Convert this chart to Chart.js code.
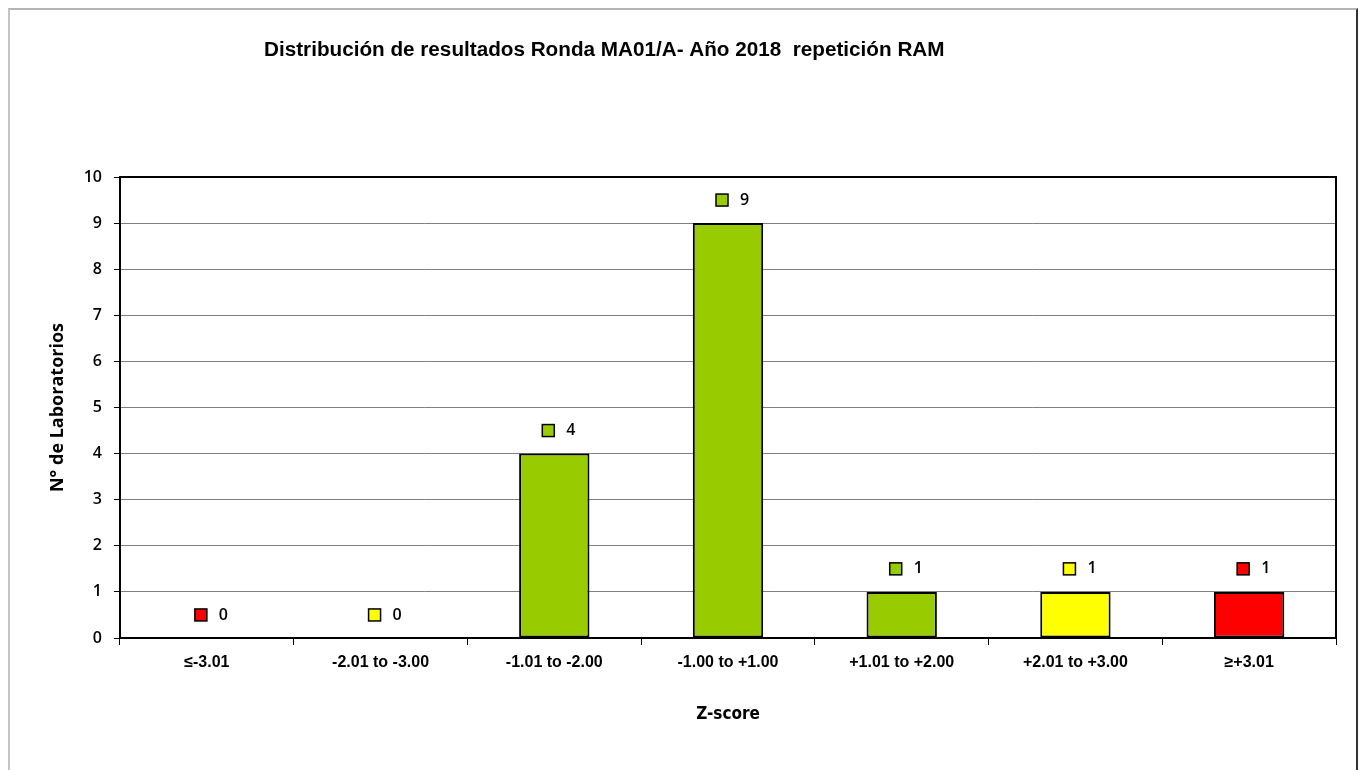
<!DOCTYPE html>
<html>
<head>
<meta charset="utf-8">
<script src="https://cdn.jsdelivr.net/npm/chart.js@4.4.1/dist/chart.umd.min.js"></script>
<style>
html, body { margin:0; padding:0; background:#fff; overflow:hidden; }
#wrap { position:relative; width:1359px; height:770px; }
#frame { position:absolute; left:8px; top:8px; width:1346px; height:800px;
  border-left:2px solid #c4c4c4; border-top:2px solid #b4b4b4; border-right:2px solid #333; }
canvas { position:absolute; left:0; top:0; }
</style>
</head>
<body>
<div id="wrap">
<canvas id="chart" width="1359" height="770"></canvas>
<div id="frame"></div>
</div>
<script>

const chartTitle = "Distribución de resultados Ronda MA01/A- Año 2018  repetición RAM";

const categories = [
    "≤-3.01",
    "-2.01 to -3.00",
    "-1.01 to -2.00",
    "-1.00 to +1.00",
    "+1.01 to +2.00",
    "+2.01 to +3.00",
    "≥+3.01"
];

const labCounts = [0, 0, 4, 9, 1, 1, 1];

const barColors = [
    "#ff0000",
    "#ffff00",
    "#99cc00",
    "#99cc00",
    "#99cc00",
    "#ffff00",
    "#ff0000"
];

const yTicks = [0, 1, 2, 3, 4, 5, 6, 7, 8, 9, 10];


// value labels with a small coloured key square
const valueLabels = {
    id: "valueLabels",
    afterDatasetsDraw(chart){
        const ctx = chart.ctx;
        const x = chart.scales.x;
        const y = chart.scales.y;
        ctx.save();
        ctx.font = "600 16px 'Open Sans'";
        ctx.textBaseline = "middle";
        ctx.textAlign = "left";
        labCounts.forEach((v, i) => {
            const cx = x.getPixelForValue(i);
            const cy = y.getPixelForValue(v + 0.5);
            ctx.fillStyle = barColors[i];
            ctx.fillRect(cx - 12, cy - 6, 12, 12);
            ctx.strokeStyle = "#000";
            ctx.lineWidth = 1.5;
            ctx.strokeRect(cx - 12, cy - 6, 12, 12);
            ctx.fillStyle = "#000";
            ctx.fillText(String(v), cx + 12, cy);
        });
        ctx.restore();
    }
};

// plot frame + title
const frameAndTitle = {
    id: "frameAndTitle",
    afterDraw(chart){
        const ctx = chart.ctx;
        const a = chart.chartArea;
        ctx.save();
        ctx.strokeStyle = "#000";
        ctx.lineWidth = 2;
        ctx.strokeRect(a.left, a.top, a.right - a.left, a.bottom - a.top);
        ctx.fillStyle = "#000";
        ctx.font = "bold 20.7px 'Liberation Sans'";
        ctx.textAlign = "left";
        ctx.textBaseline = "middle";
        ctx.fillText(chartTitle, 264, 50);
        ctx.restore();
    }
};


new Chart(document.getElementById("chart").getContext("2d"), {

    type:"bar",

    data:{
        labels:categories,
        datasets:[
            {
                label:"Laboratorios",
                data:labCounts,
                backgroundColor:barColors,
                borderColor:"#000",
                borderWidth:2,
                borderSkipped:false,
                categoryPercentage:1,
                barPercentage:0.405
            }
        ]
    },

    options:{
        responsive:false,
        animation:false,
        layout:{
            padding:{ top:177, right:23, bottom:0, left:0 }
        },
        plugins:{
            legend:{ display:false },
            tooltip:{ enabled:false }
        },
        scales:{
            x:{
                afterFit(s){ s.height = 132; },
                grid:{
                    offset:true,
                    drawOnChartArea:false,
                    tickLength:7,
                    tickColor:"#000",
                    tickWidth:1
                },
                border:{ color:"#000", width:2 },
                ticks:{
                    color:"#000",
                    padding:8,
                    font:{ family:"'Liberation Sans'", size:16, weight:"bold" }
                },
                title:{
                    display:true,
                    text:"Z-score",
                    color:"#000",
                    padding:{ top:0, bottom:45 },
                    font:{ family:"'DejaVu Sans Condensed'", size:17, weight:"bold" }
                }
            },
            y:{
                min:0,
                max:10,
                afterFit(s){ s.width = 120; },
                afterBuildTicks(s){ s.ticks = yTicks.map(v => ({ value:v })); },
                grid:{
                    color:"#808080",
                    lineWidth:1,
                    tickLength:6,
                    tickColor:"#000"
                },
                border:{ color:"#000", width:2 },
                ticks:{
                    color:"#000",
                    padding:12,
                    font:{ family:"'Open Sans'", size:16, weight:"600" }
                },
                title:{
                    display:true,
                    text:"N° de Laboratorios",
                    color:"#000",
                    padding:{ top:47, bottom:0 },
                    font:{ family:"'Open Sans'", size:18, weight:"bold" }
                }
            }
        }
    },

    plugins:[valueLabels, frameAndTitle]

});

</script>
</body>
</html>
